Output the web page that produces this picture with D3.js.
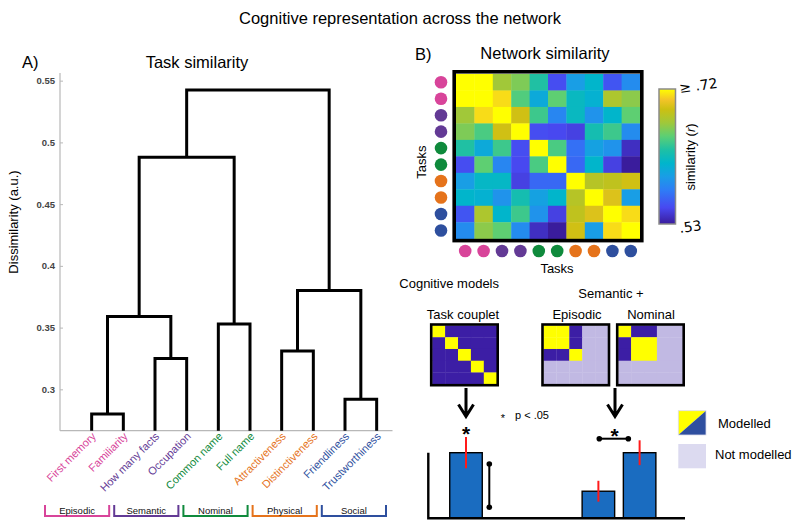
<!DOCTYPE html>
<html><head><meta charset="utf-8">
<script src="https://cdn.jsdelivr.net/npm/d3@7"></script>
<style>body{margin:0;background:#fff}svg{display:block;font-family:"Liberation Sans",Arial,Helvetica,sans-serif}</style>
</head><body><svg id="c" width="800" height="528"></svg>
<script>
// ---------------- DATA ----------------
const tasks = ["First memory","Familiarity","How many facts","Occupation","Common name","Full name","Attractiveness","Distinctiveness","Friendliness","Trustworthiness"];
const taskGroup = ["Episodic","Episodic","Semantic","Semantic","Nominal","Nominal","Physical","Physical","Social","Social"];
const groups = ["Episodic","Semantic","Nominal","Physical","Social"];
const groupColors = ["#d8449a","#633a95","#0f8a3c","#e5731b","#2e4f9e"];
// linkage rows: [child a, child b, height]; leaves 0-9, merged nodes 10+
const linkage = [[0,1,0.280],[8,9,0.292],[2,3,0.325],[6,7,0.331],[4,5,0.353],[10,12,0.359],[13,11,0.380],[15,14,0.488],[17,16,0.5425]];
const dissimTicks = [0.3,0.35,0.4,0.45,0.5,0.55];
const networkSimilarity = [
 [.74,.74,.673,.663,.635,.555,.597,.616,.559,.587],
 [.74,.74,.711,.650,.606,.654,.621,.612,.678,.667],
 [.673,.711,.74,.693,.644,.583,.621,.591,.616,.654],
 [.663,.648,.693,.74,.555,.553,.549,.629,.644,.587],
 [.635,.606,.644,.555,.74,.648,.572,.600,.591,.540],
 [.555,.654,.583,.553,.648,.74,.568,.616,.549,.530],
 [.597,.619,.619,.549,.568,.568,.74,.682,.686,.693],
 [.616,.612,.591,.629,.600,.616,.682,.74,.697,.597],
 [.559,.678,.616,.644,.591,.549,.686,.697,.74,.711],
 [.587,.667,.654,.587,.540,.530,.693,.597,.711,.74]
];
const simRange = [0.53, 0.72];
const simTickLabels = [".53","≥ .72"];
// model matrices: 1 = modelled similar, 0 = modelled dissimilar, -1 = not modelled
const taskCoupletModel = [[1,0,0,0,0],[0,1,0,0,0],[0,0,1,0,0],[0,0,0,1,0],[0,0,0,0,1]];
const episodicModel = [[1,1,0,-1,-1],[1,1,0,-1,-1],[0,0,1,-1,-1],[-1,-1,-1,-1,-1],[-1,-1,-1,-1,-1]];
const nominalModel = [[1,0,0,-1,-1],[0,1,1,-1,-1],[0,1,1,-1,-1],[-1,-1,-1,-1,-1],[-1,-1,-1,-1,-1]];
const barGroups = ["Task couplet","Semantic +"];
const barNames = ["Task couplet","Episodic","Nominal"];
const barGroupOf = ["Task couplet","Semantic +","Semantic +"];
const barValues = [1.0, 0.41, 1.0];
const barErrors = [0.24, 0.16, 0.19];
const legendLabels = ["Modelled","Not modelled"];

// ---------------- SETUP ----------------
const svg = d3.select("#c");
const txt = (x,y,s,opt={}) => {
  const t = svg.append("text").attr("x",x).attr("y",y).text(s)
    .attr("font-size",opt.size||13).attr("fill",opt.fill||"#000")
    .attr("text-anchor",opt.anchor||"start");
  if (opt.weight) t.attr("font-weight",opt.weight);
  if (opt.rotate!==undefined) t.attr("transform",`rotate(${opt.rotate},${x},${y})`);
  return t;
};
const gColor = d3.scaleOrdinal().domain(groups).range(groupColors);

// titles
txt(400,24,"Cognitive representation across the network",{size:16.5,anchor:"middle"});
txt(22,68,"A)",{size:16.5});
txt(197,68,"Task similarity",{size:16.5,anchor:"middle"});
txt(415,60,"B)",{size:16.5});
txt(545,59,"Network similarity",{size:16.5,anchor:"middle"});

// ---------------- DENDROGRAM ----------------
const x = d3.scaleLinear().domain([0,10.5]).range([60,392.5]);
const y = d3.scaleLinear().domain([0.2665,0.5562]).range([430.7,73]).clamp(true);
const yAx = svg.append("g").attr("transform","translate(60,0)")
  .call(d3.axisLeft(y).tickValues(dissimTicks).tickFormat(d=>String(d)).tickSize(-3).tickPadding(5));
yAx.select(".domain").attr("stroke","#b8b8b8").attr("stroke-width",1.2).attr("d","M0,73V430.7");
yAx.selectAll(".tick line").attr("stroke","#b8b8b8");
yAx.selectAll(".tick text").attr("font-size",9.5).attr("font-weight","bold").attr("fill","#444").attr("font-family","Liberation Sans, Arial");
svg.append("line").attr("x1",60).attr("x2",392.5).attr("y1",430.7).attr("y2",430.7).attr("stroke","#b8b8b8").attr("stroke-width",1.2);
txt(18,222,"Dissimilarity (a.u.)",{size:13,anchor:"middle",rotate:-90});

const nodeX = tasks.map((d,i)=>i+1), nodeH = tasks.map(()=>0);
linkage.forEach(([a,b,h])=>{
  const xa=nodeX[a], xb=nodeX[b];
  svg.append("path")
    .attr("d",`M${x(xa)},${y(nodeH[a])}V${y(h)}H${x(xb)}V${y(nodeH[b])}`)
    .attr("fill","none").attr("stroke","#000").attr("stroke-width",3).attr("stroke-linejoin","miter").attr("stroke-linecap","butt");
  nodeX.push((xa+xb)/2); nodeH.push(h);
});
tasks.forEach((t,i)=>{
  txt(x(i+1)+5,437,t,{size:11,anchor:"end",rotate:-45,fill:gColor(taskGroup[i])});
});
const gb = d3.scaleBand().domain(groups).range([45,386]).paddingInner(0.0725);
groups.forEach(g=>{
  const x0=gb(g), x1=gb(g)+gb.bandwidth();
  svg.append("path").attr("d",`M${x0},505V516H${x1}V505`).attr("fill","none").attr("stroke",gColor(g)).attr("stroke-width",2);
  txt((x0+x1)/2,514,g,{size:9.5,anchor:"middle",fill:"#111"});
});

// ---------------- HEATMAP ----------------
const stops = [0,0.12,0.25,0.35,0.45,0.55,0.65,0.75,0.85,0.92,1];
const stopCols = ["#3a1c9c","#4848f0","#2e7cf6","#1a9de6","#00b5cc","#1ec0a4","#5ccf74","#a0c83a","#ccc012","#f3c428","#ffff00"];
const col = d3.scaleLinear().domain(stops.map(s=>simRange[0]+s*(simRange[1]-simRange[0]))).range(stopCols).clamp(true);
const hx = d3.scaleBand().domain(d3.range(10)).range([456,640]);
const hy = d3.scaleBand().domain(d3.range(10)).range([74,238.7]);
networkSimilarity.forEach((row,r)=>row.forEach((v,c)=>{
  svg.append("rect").attr("x",hx(c)).attr("y",hy(r)).attr("width",hx.bandwidth()+0.4).attr("height",hy.bandwidth()+0.4).attr("fill",col(v));
}));
svg.append("rect").attr("x",454.2).attr("y",71.8).attr("width",187.6).attr("height",168.8).attr("fill","none").attr("stroke","#000").attr("stroke-width",3.6);
tasks.forEach((t,i)=>{
  svg.append("circle").attr("cx",441).attr("cy",hy(i)+hy.bandwidth()/2).attr("r",6.3).attr("fill",gColor(taskGroup[i]));
  svg.append("circle").attr("cx",hx(i)+hx.bandwidth()/2).attr("cy",251).attr("r",6.3).attr("fill",gColor(taskGroup[i]));
});
txt(426,162,"Tasks",{size:13,anchor:"middle",rotate:-90});
txt(557,273,"Tasks",{size:13,anchor:"middle"});
const defs = svg.append("defs");
const grad = defs.append("linearGradient").attr("id","cb").attr("x1",0).attr("y1",1).attr("x2",0).attr("y2",0);
stops.forEach((s,i)=>grad.append("stop").attr("offset",s).attr("stop-color",stopCols[i]));
const cy = d3.scaleLinear().domain(simRange).range([224,89]);
svg.append("rect").attr("x",659).attr("y",cy(simRange[1])).attr("width",16.5).attr("height",cy(simRange[0])-cy(simRange[1])).attr("fill","url(#cb)").attr("stroke","#8a8a8a").attr("stroke-width",1.5);
txt(680,cy(simRange[1])+4,simTickLabels[1],{size:14,rotate:-8}).attr("font-family","DejaVu Sans");
txt(680,cy(simRange[0])+9,simTickLabels[0],{size:14,rotate:-8}).attr("font-family","DejaVu Sans");
const sl = svg.append("text").attr("transform","translate(695,157) rotate(-90)").attr("text-anchor","middle").attr("font-size",13);
sl.append("tspan").text("similarity (");
sl.append("tspan").text("r").attr("font-style","italic");
sl.append("tspan").text(")");

// ---------------- COGNITIVE MODELS ----------------
txt(499,288,"Cognitive models",{size:13,anchor:"end"});
txt(611,298,"Semantic +",{size:13,anchor:"middle"});
const modelCol = d3.scaleOrdinal().domain([1,0,-1]).range(["#ffff00","#3c1ea5","#c1b9e3"]);
const models = [[taskCoupletModel,430.7],[episodicModel,542],[nominalModel,616.7]];
const titleX = [463,577,651];
models.forEach(([m,x0],k)=>{
  const w=67.5,h=61.7, y0=324;
  const mx = d3.scaleBand().domain(d3.range(5)).range([x0+1.5,x0+w-1.5]);
  const my = d3.scaleBand().domain(d3.range(5)).range([y0+1.5,y0+h-1.5]);
  m.forEach((row,r)=>row.forEach((v,c)=>{
    svg.append("rect").attr("x",mx(c)).attr("y",my(r)).attr("width",mx.bandwidth()+0.3).attr("height",my.bandwidth()+0.3).attr("fill",modelCol(v));
  }));
  svg.append("rect").attr("x",x0+0.5).attr("y",y0+0.5).attr("width",w-1).attr("height",h-1).attr("fill","none").attr("stroke","#000").attr("stroke-width",2.6);
  txt(titleX[k],319,barNames[k],{size:13,anchor:"middle"});
});

// ---------------- BARS ----------------
const gx = d3.scalePoint().domain(barGroups).range([466,619]);
const sub = d3.scaleBand().domain(["Episodic","Nominal"]).range([-41.2,41.2]).paddingInner(0.211).paddingOuter(0.105);
const by = d3.scaleLinear().domain([0,1]).range([518,452.7]);
const bw = sub.bandwidth();
const barCx = barNames.map((n,i)=> barGroupOf[i]==="Task couplet" ? gx(barGroupOf[i]) : gx(barGroupOf[i])+sub(n)+bw/2);
barValues.forEach((v,i)=>{
  svg.append("rect").attr("x",barCx[i]-bw/2).attr("y",by(v)).attr("width",bw).attr("height",by(0)-by(v)).attr("fill","#1a6cc0").attr("stroke","#000").attr("stroke-width",1.4);
});
barValues.forEach((v,i)=>{
  svg.append("line").attr("x1",barCx[i]).attr("x2",barCx[i]).attr("y1",by(v+barErrors[i])).attr("y2",by(v-barErrors[i])).attr("stroke","#ff1a1a").attr("stroke-width",2);
});
svg.append("path").attr("d",`M428.3,452.7V518.3H685`).attr("fill","none").attr("stroke","#000").attr("stroke-width",2.4);
[gx("Task couplet"), gx("Semantic +")-4].forEach(ax=>{
  svg.append("path").attr("d",`M${ax},388V416.5M${ax-7.5},404.5L${ax},416.5L${ax+7.5},404.5`).attr("fill","none").attr("stroke","#000").attr("stroke-width",3);
});
txt(barCx[0],441,"*",{size:21,anchor:"middle",weight:"bold"});
const vb = svg.append("g");
vb.append("line").attr("x1",489.3).attr("x2",489.3).attr("y1",464).attr("y2",507.3).attr("stroke","#000").attr("stroke-width",2);
vb.append("circle").attr("cx",489.3).attr("cy",464).attr("r",2.8);
vb.append("circle").attr("cx",489.3).attr("cy",507.3).attr("r",2.8);
vb.append("line").attr("x1",599.3).attr("x2",628.3).attr("y1",438.7).attr("y2",438.7).attr("stroke","#000").attr("stroke-width",2);
vb.append("circle").attr("cx",599.3).attr("cy",438.7).attr("r",2.8);
vb.append("circle").attr("cx",628.3).attr("cy",438.7).attr("r",2.8);
txt(614.5,443,"*",{size:21,anchor:"middle",weight:"bold"});
txt(503,422,"*",{size:11,anchor:"middle"});
txt(515,419,"p < .05",{size:11});

// legend
svg.append("path").attr("d","M678.3,410.7H706L678.3,435Z").attr("fill","#ffff00");
svg.append("path").attr("d","M706,410.7V435H678.3Z").attr("fill","#2f4f9f");
svg.append("rect").attr("x",678.3).attr("y",410.7).attr("width",27.7).attr("height",24.3).attr("fill","none").attr("stroke","#dcdcec").attr("stroke-width",0.8);
svg.append("rect").attr("x",678.3).attr("y",444).attr("width",27.7).attr("height",24.3).attr("fill","#dcdaf0");
txt(718,428,legendLabels[0],{size:13});
txt(715,459,legendLabels[1],{size:13});
</script></body></html>
